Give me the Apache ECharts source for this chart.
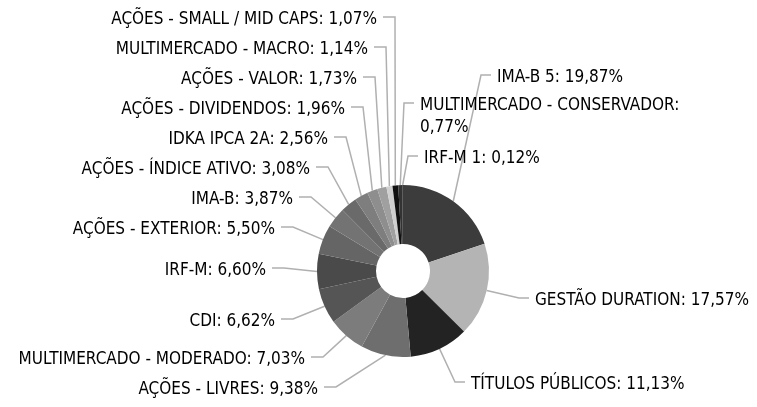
<!DOCTYPE html>
<html><head><meta charset="utf-8">
<script src="https://cdn.jsdelivr.net/npm/echarts@6/dist/echarts.min.js"></script>
<style>html,body{margin:0;padding:0;background:#fff}#c{width:757px;height:407px}</style>
</head><body><div id="c"></div>
<script>
const categories = ["IMA-B 5","GESTÃO DURATION","TÍTULOS PÚBLICOS","AÇÕES - LIVRES","MULTIMERCADO - MODERADO","CDI","IRF-M","AÇÕES - EXTERIOR","IMA-B","AÇÕES - ÍNDICE ATIVO","IDKA IPCA 2A","AÇÕES - DIVIDENDOS","AÇÕES - VALOR","MULTIMERCADO - MACRO","AÇÕES - SMALL / MID CAPS","MULTIMERCADO - CONSERVADOR","IRF-M 1"];
const values = [19.87,17.57,11.13,9.38,7.03,6.62,6.60,5.50,3.87,3.08,2.56,1.96,1.73,1.14,1.07,0.77,0.12];
const colors = ["#3c3c3c","#b4b4b4","#232323","#6e6e6e","#7c7c7c","#555555","#4a4a4a","#656565","#737373","#6a6a6a","#7e7e7e","#8e8e8e","#a0a0a0","#d0d0d0","#111111","#333333","#2a2a2a"];

// label layout (anchor x, centre y, side) — presentation only
const labelLayoutTable = [
  {x:497,y:78,side:'R'},
  {x:535,y:301,side:'R'},
  {x:471,y:385,side:'R'},
  {x:318,y:390,side:'L'},
  {x:305,y:360,side:'L'},
  {x:275,y:322,side:'L'},
  {x:266,y:271,side:'L'},
  {x:275,y:230,side:'L'},
  {x:293,y:200,side:'L'},
  {x:310,y:170,side:'L'},
  {x:328,y:140,side:'L'},
  {x:345,y:110,side:'L'},
  {x:357,y:80,side:'L'},
  {x:368,y:50,side:'L'},
  {x:377,y:20,side:'L'},
  {x:420,y:117,side:'R'},
  {x:424,y:159,side:'R'}
];

const FONT = '"DejaVu Sans Condensed","DejaVu Sans",sans-serif';
const FSIZE = 17;
const ctx = document.createElement('canvas').getContext('2d');
ctx.font = FSIZE + 'px ' + FONT;
const fmt = v => v.toFixed(2).replace('.', ',');
const MAXW = 300;
function labelText(name, value){
  const full = name + ': ' + fmt(value) + '%';
  if (ctx.measureText(full).width > MAXW) return name + ':\n' + fmt(value) + '%';
  return full;
}

const chart = echarts.init(document.getElementById('c'), null, {renderer:'canvas'});
chart.setOption({
  animation:false,
  backgroundColor:'#ffffff',
  series:[{
    type:'pie',
    center:[403,271],
    radius:[27,86],
    startAngle:90,
    clockwise:true,
    avoidLabelOverlap:false,
    data: categories.map((n,i)=>({name:n,value:values[i],itemStyle:{color:colors[i]}})),
    label:{
      show:true,
      formatter: p => labelText(p.name, p.value),
      fontFamily:FONT,
      fontSize:FSIZE,
      color:'#000',
      lineHeight:22
    },
    labelLine:{show:true,length:18,length2:14,lineStyle:{color:'#b0b0b0',width:1.5}},
    labelLayout: function(params){
      const L = labelLayoutTable[params.dataIndex];
      const p0 = params.labelLinePoints ? params.labelLinePoints[0] : [403,271];
      const ly = L.y - 3;
      if (L.side === 'L') {
        return {x:L.x, y:L.y, align:'right', verticalAlign:'middle',
          labelLinePoints:[p0,[L.x+18,ly],[L.x+6,ly]]};
      } else {
        const lineY = (params.dataIndex === 15) ? L.y - 14 : ly;
        return {x:L.x, y:L.y, align:'left', verticalAlign:'middle',
          labelLinePoints:[p0,[L.x-16,lineY],[L.x-6,lineY]]};
      }
    },
    itemStyle:{borderWidth:0}
  }]
});
</script></body></html>
